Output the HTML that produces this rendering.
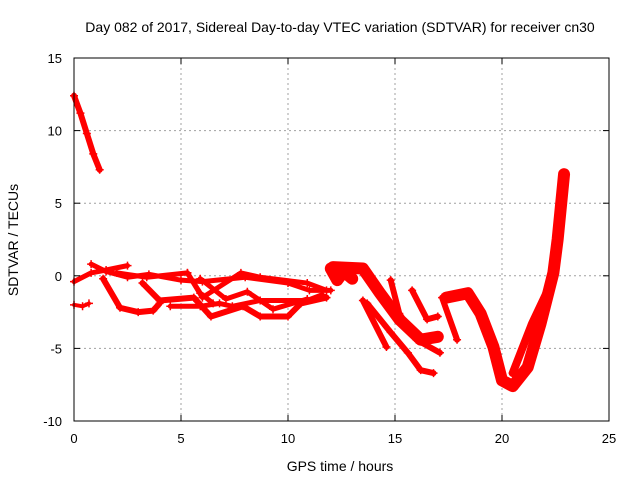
<!DOCTYPE html>
<html><head><meta charset="utf-8"><style>
html,body{margin:0;padding:0;background:#fff;}
svg{display:block;font-family:"Liberation Sans",sans-serif;}
</style></head><body>
<svg id="chart" width="640" height="480">
<text x="340" y="32" font-size="14" text-anchor="middle">Day 082 of 2017, Sidereal Day-to-day VTEC variation (SDTVAR) for receiver cn30</text>
<text x="340" y="471" font-size="14" text-anchor="middle">GPS time / hours</text>
<text transform="translate(18,240) rotate(-90)" font-size="14" text-anchor="middle">SDTVAR / TECUs</text>
<g id="grid"></g><g id="series"></g><g id="axes"></g>
</svg>
<script>
const xTicks=[0,5,10,15,20,25];
const yTicks=[-10,-5,0,5,10,15];
const trackTimes=[
[0,0.3,0.6,0.9,1.2],
[0,0.4,0.7],
[0,0.8,1.5,2.5],
[0.8,1.5,2.5,3.5,5,6,8,10,11,12],
[1.36,2.15,3.0,3.7,4.0],
[3.2,4.0,5.6,6.4,7.9,8.7,10,10.6,11.8],
[5.3,6.0,7.8,8.7,10.9,11.8],
[5.9,7.1,8.1,9.3,10.9],
[4.5,5.9,6.8,7.4,8.7,10.9,11.6],
[2.0,3.4,5.3,5.9,6.5],
[12.0,12.3,12.6,13.0],
[12.1,13.5,14.3,15.2,16.2,17.0],
[13.5,14.6],
[13.7,14.8,15.6,16.2,16.8],
[14.8,15.2,16.0,17.1],
[15.8,16.5,17.0],
[17.2,17.9],
[17.4,18.4,19.0,19.6,20.0,20.5,21.2,21.8,22.4,22.6,22.9],
[20.5,21.4,22.2]
];
const trackValues=[
[12.4,11.2,9.8,8.4,7.3],
[-2.0,-2.1,-1.9],
[-0.4,0.2,0.4,0.7],
[0.8,0.3,-0.1,0.1,-0.3,-0.4,-0.1,-0.5,-1.0,-1.0],
[-0.2,-2.2,-2.5,-2.4,-1.9],
[-0.5,-1.7,-1.5,-2.8,-2.1,-2.8,-2.8,-1.9,-1.5],
[0.2,-1.5,0.2,-0.1,-0.5,-1.0],
[-0.2,-1.6,-1.1,-2.3,-1.6],
[-2.1,-2.1,-1.9,-2.1,-1.7,-1.7,-1.3],
[0.2,-0.1,0.2,-1.2,-1.9],
[0.5,-0.3,0.3,-0.2],
[0.6,0.5,-1.2,-3.0,-4.4,-4.2],
[-1.7,-4.9],
[-1.9,-3.9,-5.3,-6.5,-6.7],
[-0.3,-2.6,-4.4,-5.3],
[-1.0,-3.0,-2.8],
[-1.5,-4.4],
[-1.5,-1.2,-2.6,-4.9,-7.2,-7.6,-6.3,-3.3,0.2,2.5,7.0],
[-6.7,-3.3,-0.8]
];
const trackWidths=[6,4,5,5,6,6,5,5,5,5,12,12,6,6,6,6,6,12,8];
const X0=74,X1=609,Y0=421,Y1=58,XMIN=0,XMAX=25,YMIN=-10,YMAX=15;
function sx(t){return X0+(t-XMIN)/(XMAX-XMIN)*(X1-X0);}
function sy(v){return Y0-(v-YMIN)/(YMAX-YMIN)*(Y0-Y1);}
const NS='http://www.w3.org/2000/svg';
function mk(tag,attrs,parent){const e=document.createElementNS(NS,tag);for(const k in attrs)e.setAttribute(k,attrs[k]);parent.appendChild(e);return e;}
const grid=document.getElementById('grid'),axes=document.getElementById('axes'),ser=document.getElementById('series');
xTicks.forEach(t=>{
  if(t>XMIN&&t<XMAX){const l=mk('line',{x1:sx(t),x2:sx(t),y1:Y1,y2:Y0,stroke:'#a0a0a0','stroke-dasharray':'2,3'},grid);
  
  }
  const tl=mk('text',{x:sx(t),y:Y0+22,'font-size':13,'text-anchor':'middle'},axes);tl.textContent=t;
  
  
  mk('line',{x1:sx(t),x2:sx(t),y1:Y0,y2:Y0-6,stroke:'#000'},axes);
  mk('line',{x1:sx(t),x2:sx(t),y1:Y1,y2:Y1+6,stroke:'#000'},axes);
});
yTicks.forEach(v=>{
  if(v>YMIN&&v<YMAX){const l=mk('line',{x1:X0,x2:X1,y1:sy(v),y2:sy(v),stroke:'#a0a0a0','stroke-dasharray':'2,3'},grid);
  
  }
  const tl=mk('text',{x:X0-12,y:sy(v)+5,'font-size':13,'text-anchor':'end'},axes);tl.textContent=v;
  
  
  mk('line',{x1:X0,x2:X0+6,y1:sy(v),y2:sy(v),stroke:'#000'},axes);
  mk('line',{x1:X1,x2:X1-6,y1:sy(v),y2:sy(v),stroke:'#000'},axes);
});
const frame=mk('rect',{x:X0,y:Y1,width:X1-X0,height:Y0-Y1,fill:'none',stroke:'#000'},axes);


trackTimes.forEach((ts,i)=>{
  const vs=trackValues[i];
  const pts=ts.map((t,j)=>sx(t)+','+sy(vs[j])).join(' ');
  const pl=mk('polyline',{points:pts,fill:'none',stroke:'#ff0000','stroke-width':trackWidths[i],'stroke-linejoin':'round','stroke-linecap':'round'},ser);
  
  
  ts.forEach((t,j)=>{
    const x=sx(t),y=sy(vs[j]);
    const p=mk('path',{d:`M${x-4},${y}h8M${x},${y-4}v8`,stroke:'#ff0000','stroke-width':1.5},ser);
    
    
  });
});
</script>
</body></html>
